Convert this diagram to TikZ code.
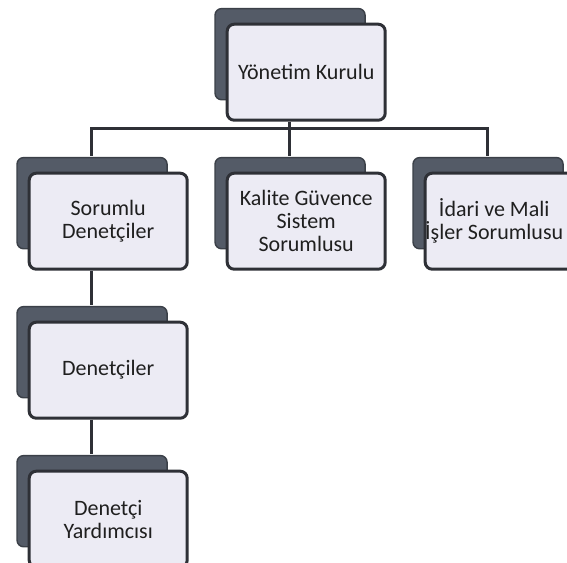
\documentclass[tikz,border=0pt]{standalone}
\usepackage{fontspec}
\setmainfont{Carlito}
\usetikzlibrary{matrix,shadows}

\definecolor{cardfill}{RGB}{236,235,244}
\definecolor{cardline}{RGB}{46,48,54}
\definecolor{backfill}{RGB}{84,91,103}

\begin{document}
\begin{tikzpicture}[x=1pt,y=1pt,
    card/.style={draw=cardline, line width=3pt, rounded corners=7pt, fill=cardfill,
      minimum width=158pt, minimum height=96pt, align=center, inner sep=2pt,
      text=black!88, font=\fontsize{22}{23}\selectfont,
      copy shadow={shadow xshift=-17pt, shadow yshift=19pt, shadow scale=0.95,
        fill=backfill, draw=backfill!70!black, line width=1.5pt}},
    link/.style={draw=cardline, line width=3pt}]
    \useasboundingbox (0,0) rectangle (567,-562);
    \clip (0,0) rectangle (567,-562);
    \matrix(org)[ampersand replacement=\&, column sep=37pt, row sep=50pt,
        inner sep=0pt, anchor=north west] at (27.5,-22.5) {
      \& \node[card] (yk) {Yönetim Kurulu}; \& \\
      \node[card] (sor) {Sorumlu\\Denetçiler}; \&
      \node[card] (kal) {Kalite Güvence\\Sistem\\Sorumlusu}; \&
      \node[card] (ida) {\kern-20pt İdari ve Mali\\\kern-20pt İşler Sorumlusu}; \\
      \node[card] (den) {Denetçiler}; \& \& \\
      \node[card] (yar) {Denetçi\\Yardımcısı}; \& \& \\ };
    \coordinate (bus) at ([xshift=-17pt,yshift=-7pt]yk.south);
    \path[link] ([xshift=-17pt]yk.south) -- (bus);
    \path[link] (bus) -| ([xshift=-17pt,yshift=16pt]sor.north);
    \path[link] (bus) -| ([xshift=-17pt,yshift=16pt]kal.north);
    \path[link] (bus) -| ([xshift=-17pt,yshift=16pt]ida.north);
    \path[link] ([xshift=-17pt]sor.south) -- ([xshift=-17pt,yshift=16pt]den.north);
    \path[link] ([xshift=-17pt]den.south) -- ([xshift=-17pt,yshift=16pt]yar.north);
  \end{tikzpicture}
\end{document}
